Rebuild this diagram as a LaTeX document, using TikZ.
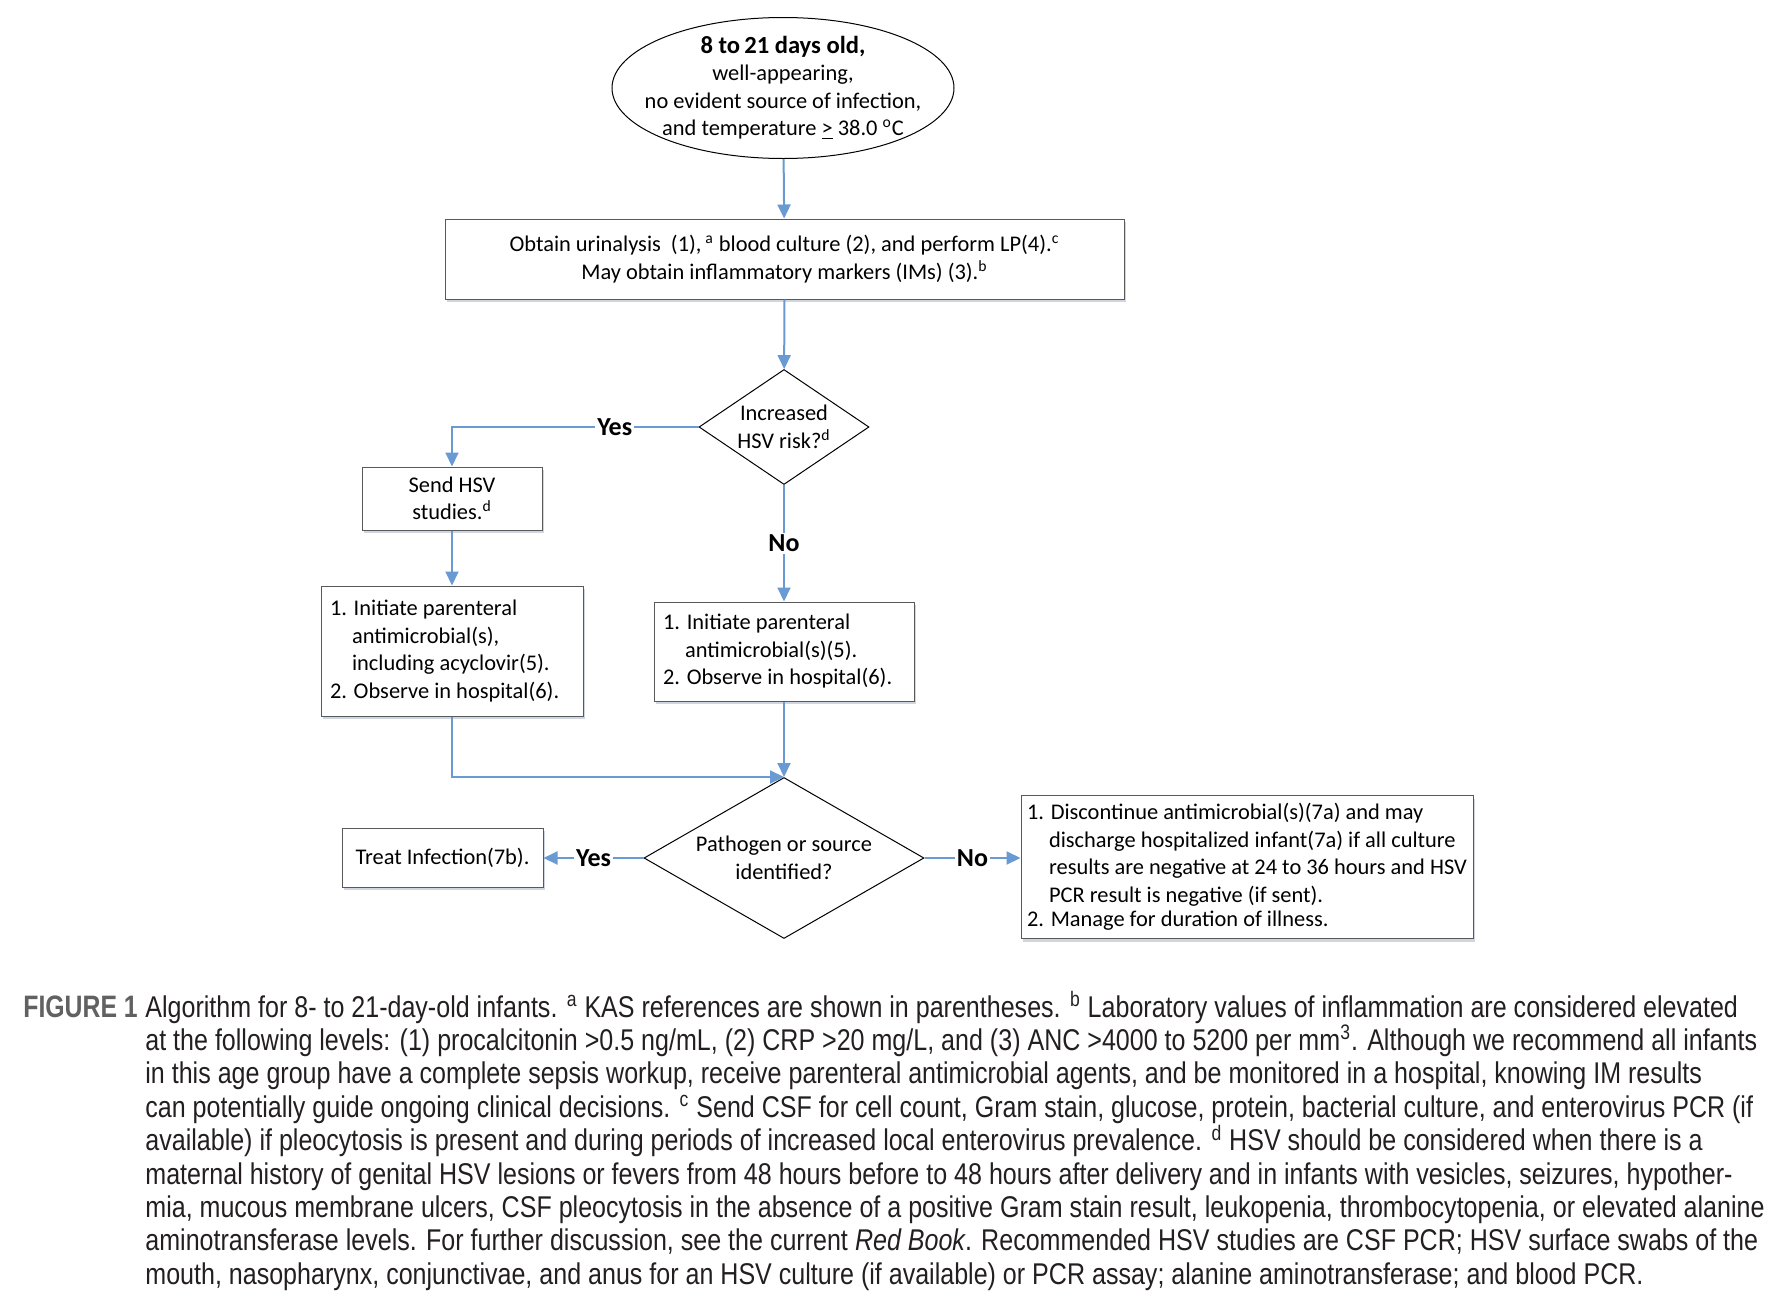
\documentclass[tikz,border=0pt]{standalone}
\usepackage{fontspec}
\setmainfont{Carlito}
\newfontfamily\capfont[FakeStretch=0.835]{Liberation Sans}
\newfontfamily\figfont[FakeStretch=0.8]{Liberation Sans Bold}
\usepackage{tikz}
\usetikzlibrary{arrows.meta,positioning,calc,shapes.geometric,shadows}

\definecolor{flowblue}{RGB}{106,154,212}
\definecolor{capgray}{RGB}{35,31,32}

\begin{document}
\begin{tikzpicture}[
  x=0.5pt, y=-0.5pt,
  flow/.style={draw=flowblue,line width=1pt,-{Triangle[length=7pt,width=6.5pt]}},
  box/.style={draw=black!65,line width=0.5pt,fill=white,inner sep=4.5pt,
    font=\fontsize{11.2}{13.75}\selectfont,
    drop shadow={shadow xshift=1.2pt,shadow yshift=-1.5pt,opacity=0.25,fill=flowblue!60!black}},
  decision/.style={diamond,draw,line width=0.5pt,inner sep=0pt,align=center,
    font=\fontsize{11.2}{13.75}\selectfont},
  lbl/.style={fill=white,inner sep=1pt,font=\fontsize{13}{15}\selectfont\bfseries}
]

\def\xmid{784}
\def\ind{\phantom{1.\ }}

\useasboundingbox (0,0) rectangle (1774,1296);

% start
\node[ellipse,draw,line width=0.5pt,fill=white,minimum width=171pt,minimum height=70.5pt] (start) at (783,88) {};
\node[align=center,font=\fontsize{11.2}{13.75}\selectfont] (starttext) at (start) {%
  {\fontsize{12.3}{13.75}\selectfont\bfseries 8 to\,21 days old,}\\
  well-appearing,\\
  no evident source of infection,\\
  and temperature \underline{>} 38.0 \textsuperscript{o}C};

\node[box,align=center,minimum width=339.5pt,minimum height=40pt] (obtain) at (784.5,259) {%
  Obtain urinalysis\ \ (1),\,\textsuperscript{a} blood culture (2), and perform LP(4).\textsuperscript{c}\\
  May obtain inflammatory markers (IMs) (3).\textsuperscript{b}};

\node[decision,aspect=1.48,minimum width=85pt,minimum height=57.5pt] (risk) at (\xmid,427) {Increased\\HSV risk?\textsuperscript{d}};

\node[box,align=center,minimum width=90pt,minimum height=31.5pt] (send) at (452,498.5) {Send HSV\\studies.\textsuperscript{d}};

\node[box,align=left,minimum width=131pt,minimum height=65pt] (initacy) at (452,651) {%
  \makebox[122pt][l]{1. Initiate parenteral}\\
  \ind antimicrobial(s),\\
  \ind including acyclovir(5).\\
  2. Observe in hospital(6).};

\node[box,align=left,minimum width=130pt,minimum height=49.5pt] (init) at (\xmid,651.5) {%
  \makebox[121pt][l]{1. Initiate parenteral}\\
  \ind antimicrobial(s)(5).\\
  2. Observe in hospital(6).};

\node[decision,aspect=1.74,minimum width=140pt,minimum height=80.5pt] (pathogen) at (\xmid,858) {Pathogen or source\\identified?};

\node[box,align=center,minimum width=100.5pt,minimum height=29.5pt] (treat) at (442.5,857.5) {Treat Infection(7b).};

\node[box,align=left,inner xsep=3pt,inner ysep=3pt,minimum width=226pt,minimum height=71.5pt] (stop) at (1247,867) {%
  \makebox[220pt][l]{1. Discontinue antimicrobial(s)(7a) and may}\\
  \ind discharge hospitalized infant(7a) if all culture\\
  \ind results are negative at 24 to 36 hours and HSV\\
  \ind PCR result is negative (if sent).\\[-1.5pt]
  2. Manage for duration of illness.};

% connectors
\draw[flow] (start) -- (obtain);
\draw[flow] (obtain) -- (risk);
\draw[flow] (risk.west) -| node[lbl,pos=0.17] {Yes} (send.north);
\draw[flow] (risk) -- node[lbl] {No} (init);
\draw[flow] (send) -- (initacy);
\draw[flow] (initacy.south) |- (pathogen.north);
\draw[flow] (init) -- (pathogen);
\draw[flow] (pathogen.west) -- node[lbl] {Yes} (pathogen.west -| treat.east);
\draw[flow] (pathogen.east) -- node[lbl] {No} (pathogen.east -| stop.west);

% caption
\node[anchor=base west,inner sep=0pt,text=black!62,
  font=\figfont\fontsize{15.5}{16.7}\selectfont] (figlabel) at (23,1017) {FIGURE 1};
\node[anchor=base west,inner sep=0pt,text=capgray,
  font=\capfont\fontsize{15}{16.7}\selectfont] (caption) at (145,1017) {\parbox[t]{820pt}{\raggedright
Algorithm for 8- to 21-day-old infants. \textsuperscript{a} KAS references are shown in parentheses. \textsuperscript{b} Laboratory values of inflammation are considered elevated\\
at the following levels: (1) procalcitonin >0.5 ng/mL, (2) CRP >20 mg/L, and (3) ANC >4000 to 5200 per mm\textsuperscript{3}. Although we recommend all infants\\
in this age group have a complete sepsis workup, receive parenteral antimicrobial agents, and be monitored in a hospital, knowing IM results\\
can potentially guide ongoing clinical decisions. \textsuperscript{c} Send CSF for cell count, Gram stain, glucose, protein, bacterial culture, and enterovirus PCR (if\\
available) if pleocytosis is present and during periods of increased local enterovirus prevalence. \textsuperscript{d} HSV should be considered when there is a\\
maternal history of genital HSV lesions or fevers from 48 hours before to 48 hours after delivery and in infants with vesicles, seizures, hypother-\\
mia, mucous membrane ulcers, CSF pleocytosis in the absence of a positive Gram stain result, leukopenia, thrombocytopenia, or elevated alanine\\
aminotransferase levels. For further discussion, see the current \textit{Red Book}. Recommended HSV studies are CSF PCR; HSV surface swabs of the\\
mouth, nasopharynx, conjunctivae, and anus for an HSV culture (if available) or PCR assay; alanine aminotransferase; and blood PCR.}};

\end{tikzpicture}
\end{document}
